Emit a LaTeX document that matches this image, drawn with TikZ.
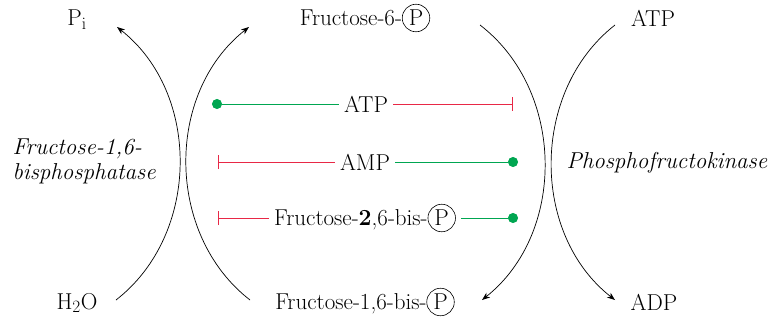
\documentclass[tikz,border=0pt]{standalone}
\usetikzlibrary{arrows.meta}
\definecolor{actgreen}{RGB}{0,166,81}
\definecolor{inhred}{RGB}{232,40,70}
\newcommand\cP{\tikz[baseline=(cp.base)]\node[draw,circle,inner sep=2.2pt,line width=0.6pt](cp){P};}
\begin{document}
\begin{tikzpicture}[x=1pt,y=1pt,
  every node/.style={font=\fontsize{23}{27}\selectfont},
  lbl/.style={inner sep=5pt},
  rxn/.style={line width=0.7pt,-{Stealth[length=8pt,width=6pt,inset=2.5pt]}},
  actline/.style={draw=actgreen,line width=0.8pt,-{Circle[length=10pt,fill=actgreen]}},
  inhline/.style={draw=inhred,line width=0.8pt,-{Bar[width=14pt,line width=0.8pt]}}]
\useasboundingbox (0,0) rectangle (776,322);
% top and bottom metabolites
\node[lbl] (pi) at (77,302) {P$_\mathrm{i}$};
\node[lbl] (f6p) at (365,304) {Fructose-6-\cP};
\node[lbl] (atpT) at (653,304) {ATP};
\node[lbl] (h2o) at (77,19) {H$_2$O};
\node[lbl] (f16bp) at (365,20) {Fructose-1,6-bis-\cP};
\node[lbl] (adp) at (654,20) {ADP};
% enzymes
\node[align=left,anchor=west,font=\fontsize{23}{25}\selectfont\itshape] (fbp) at (9,161) {Fructose-1,6-\\bisphosphatase};
\node[anchor=west,font=\fontsize{23}{27}\selectfont\itshape] (pfk) at (563,159) {Phosphofructokinase};
% curves
\coordinate (a1) at (116,22); \coordinate (a2) at (117,295);
\coordinate (b1) at (250,22); \coordinate (b2) at (249,295);
\coordinate (c1) at (480,297); \coordinate (c2) at (482,22);
\coordinate (d1) at (615,297); \coordinate (d2) at (615,22);
\draw[rxn] (a1) to[bend right=52] (a2);
\draw[rxn] (b1) to[bend left=52] (b2);
\draw[rxn] (c1) to[bend left=52] (c2);
\draw[rxn] (d1) to[bend right=52] (d2);
% regulators
\node[lbl] (atpM) at (366,218) {ATP};
\node[lbl] (ampM) at (365,160) {AMP};
\node[lbl] (f26bp) at (365,104) {Fructose-\textbf{2},6-bis-\cP};
\coordinate (r1l) at (212,218); \coordinate (r1r) at (513,218);
\coordinate (r2l) at (218,160); \coordinate (r2r) at (518,160);
\coordinate (r3l) at (218,104); \coordinate (r3r) at (518,104);
\draw[actline] (atpM) -- (r1l);
\draw[inhline] (atpM) -- (r1r);
\draw[inhline] (ampM) -- (r2l);
\draw[actline] (ampM) -- (r2r);
\draw[inhline] (f26bp) -- (r3l);
\draw[actline] (f26bp) -- (r3r);
\end{tikzpicture}
\end{document}
